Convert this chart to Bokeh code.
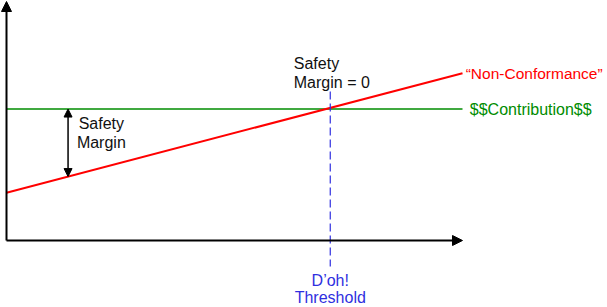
from bokeh.plotting import figure
from bokeh.models import Arrow, NormalHead, Range1d
from bokeh.core.properties import value
from bokeh.embed import file_html
from bokeh.resources import INLINE

# --- data (conceptual units) ---
time_axis = [0.0, 10.0]
contribution = [5.5, 5.5]
non_conformance = [2.0, 7.0]
threshold_x = 7.1
margin_x = 1.35
axis_max_x = 10.0
axis_max_y = 10.0

label_red = ["\u201cNon-Conformance\u201d"]
label_green = ["$$Contribution$$"]
margin_label = ["Safety", "Margin"]
zero_label = ["Safety", "Margin = 0"]
threshold_label = ["D\u2019oh!", "Threshold"]

RED = "#ff0000"
GREEN = "#008c00"
BLUE = "#2f2fe0"
FONT = value("Liberation Sans")
FS = "16px"

p = figure(width=607, height=307, output_backend="svg", toolbar_location=None,
           x_range=Range1d(-0.1316, 13.18), y_range=Range1d(-2.803, 10.042),
           min_border=0)
p.axis.visible = False
p.grid.visible = False
p.outline_line_color = None
p.background_fill_color = "white"
p.border_fill_color = "white"

# axes with arrows
p.add_layout(Arrow(end=NormalHead(size=10, fill_color="black", line_color="black"),
                   x_start=0, y_start=0, x_end=axis_max_x, y_end=0,
                   line_color="black", line_width=2))
p.add_layout(Arrow(end=NormalHead(size=10, fill_color="black", line_color="black"),
                   x_start=0, y_start=0, x_end=0, y_end=axis_max_y,
                   line_color="black", line_width=2))

# lines
p.line(time_axis, contribution, line_color=GREEN, line_width=1.6)
p.line(time_axis, non_conformance, line_color=RED, line_width=2)

# threshold dashed line
p.line([threshold_x, threshold_x], [6.23, -1.09], line_color=BLUE, line_width=1.2,
       line_dash="8 4")

# safety margin double arrow
slope = (non_conformance[1] - non_conformance[0]) / (time_axis[1] - time_axis[0])
red_at_margin = non_conformance[0] + slope * (margin_x - time_axis[0])
p.add_layout(Arrow(start=NormalHead(size=8, fill_color="black", line_color="black"),
                   end=NormalHead(size=8, fill_color="black", line_color="black"),
                   x_start=margin_x, y_start=contribution[0],
                   x_end=margin_x, y_end=red_at_margin,
                   line_color="black", line_width=1.5))

# right-hand labels
p.text(x=[axis_max_x + 0.07], y=[non_conformance[1]], text=label_red,
       text_color=RED, text_font=FONT, text_font_size="15.5px",
       text_baseline="middle", text_align="left")
p.text(x=[axis_max_x + 0.16], y=[contribution[1]], text=label_green,
       text_color=GREEN, text_font=FONT, text_font_size=FS,
       text_baseline="middle", text_align="left")

# safety margin label
p.text(x=[2.08, 2.08], y=[4.9, 4.08], text=margin_label, text_color="#111111",
       text_font=FONT, text_font_size=FS, text_baseline="middle", text_align="center")

# safety margin = 0 label
p.text(x=[6.3, 6.3], y=[7.41, 6.62], text=zero_label, text_color="#111111",
       text_font=FONT, text_font_size=FS, text_baseline="middle", text_align="left")

# threshold label
p.text(x=[threshold_x, threshold_x], y=[-1.67, -2.38], text=threshold_label,
       text_color=BLUE, text_font=FONT, text_font_size=FS,
       text_baseline="middle", text_align="center")

open("out.html", "w").write(file_html(p, INLINE))
